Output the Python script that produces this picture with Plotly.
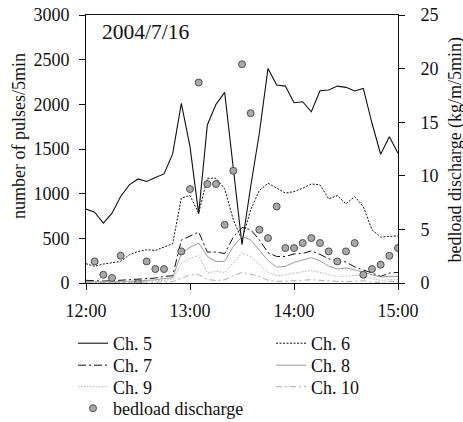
import plotly.graph_objects as go

# ---------------- data ----------------
time_labels = ["12:00", "12:05", "12:10", "12:15", "12:20", "12:25", "12:30", "12:35", "12:40",
               "12:45", "12:50", "12:55", "13:00", "13:05", "13:10", "13:15", "13:20", "13:25",
               "13:30", "13:35", "13:40", "13:45", "13:50", "13:55", "14:00", "14:05", "14:10",
               "14:15", "14:20", "14:25", "14:30", "14:35", "14:40", "14:45", "14:50", "14:55",
               "15:00"]
date = "2004-07-16"

ch5 = [827, 793, 670, 782, 968, 1098, 1165, 1136, 1180, 1221, 1445, 2011, 1527, 774, 1769, 2000,
       2134, 1250, 428, 1080, 1676, 2402, 2216, 2204, 2018, 2029, 1917, 2152, 2160, 2204, 2190,
       2149, 2178, 1788, 1441, 1638, 1453]
ch6 = [216, 186, 212, 230, 242, 316, 353, 372, 365, 402, 439, 950, 979, 782, 1173, 1173, 1054,
       707, 484, 819, 1035, 1117, 1061, 1006, 1023, 1061, 1109, 1098, 942, 979, 886, 968, 856,
       596, 514, 521, 528]
ch7 = [30, 25, 22, 25, 30, 35, 45, 50, 55, 74, 81, 480, 521, 570, 346, 346, 330, 514, 621, 596,
       484, 340, 297, 297, 325, 330, 360, 320, 270, 250, 235, 180, 149, 112, 74, 112, 118]
ch8 = [15, 12, 10, 12, 15, 20, 25, 30, 35, 50, 60, 330, 400, 447, 297, 242, 242, 409, 521, 484,
       372, 250, 179, 186, 230, 258, 285, 248, 190, 156, 168, 147, 118, 93, 67, 74, 74]
ch9 = [10, 8, 6, 8, 10, 12, 15, 18, 20, 30, 40, 223, 279, 305, 112, 130, 118, 223, 335, 297,
       210, 120, 80, 90, 110, 125, 140, 118, 95, 70, 78, 85, 80, 50, 30, 38, 40]
ch10 = [5, 5, 4, 5, 6, 7, 8, 9, 10, 12, 15, 50, 90, 95, 40, 28, 35, 80, 118, 100, 74, 30, 18, 20,
        28, 35, 37, 30, 22, 18, 15, 20, 25, 10, 8, 15, 20]
bedload = [None, 2.01, 0.77, 0.47, 2.54, None, 0.0, 2.01, 1.30, 1.30, None, 2.95, 8.76, 18.7,
           9.23, 9.23, 5.43, 10.47, 20.4, 15.84, 4.97, 4.19, 7.14, 3.26, 3.26, 3.73, 4.19, 3.73,
           2.95, 2.01, 2.95, 3.73, 0.77, 1.30, 1.71, 2.54, 3.26]

left_ticks = [0, 500, 1000, 1500, 2000, 2500, 3000]
right_ticks = [0, 5, 10, 15, 20, 25]
x_ticks = ["12:00", "13:00", "14:00", "15:00"]

# ---------------- figure ----------------
W, H = 463, 422
ML, MR, MT, MB = 86, 65, 15, 139
PW, PH = W - ML - MR, H - MT - MB
FONT = "Liberation Serif, Times New Roman, serif"
x = [f"{date} {t}" for t in time_labels]
xt = [f"{date} {t}" for t in x_ticks]

series = [
    ("Ch. 5", ch5, dict(color="#111111", width=1.1, dash="solid"), "legend", 73, 343.5),
    ("Ch. 6", ch6, dict(color="#111111", width=1, dash="2px,1.5px"), "legend2", 271, 343.5),
    ("Ch. 7", ch7, dict(color="#111111", width=1, dash="8px,3px,2px,3px"), "legend3", 73, 365.5),
    ("Ch. 8", ch8, dict(color="#9a9a9a", width=1, dash="solid"), "legend4", 271, 365.5),
    ("Ch. 9", ch9, dict(color="#b4b4b4", width=1, dash="1.5px,1.5px"), "legend5", 73, 387),
    ("Ch. 10", ch10, dict(color="#ababab", width=1, dash="6px,3px,2px,3px"), "legend6", 271, 387),
]

fig = go.Figure()
legends = {}
for name, vals, line, leg, lx, ly in series:
    fig.add_trace(go.Scatter(x=x, y=vals, mode="lines", name=name, line=line,
                             legend=leg, yaxis="y"))
    legends[leg] = (lx, ly)

fig.add_trace(go.Scatter(x=x, y=bedload, mode="markers", name="bedload discharge",
                         marker=dict(size=7, color="#a8a8a8",
                                     line=dict(color="#444444", width=0.9)),
                         yaxis="y2", legend="legend7"))
legends["legend7"] = (73, 408.5)

layout_legends = {}
for leg, (lx, ly) in legends.items():
    layout_legends[leg] = dict(
        xref="container", yref="container",
        x=lx / W, y=1 - ly / H, xanchor="left", yanchor="middle",
        bgcolor="rgba(0,0,0,0)", borderwidth=0,
        font=dict(family=FONT, size=18, color="#111111"),
        tracegroupgap=0, itemwidth=30,
    )

axis_font = dict(family=FONT, size=18, color="#111111")

fig.update_layout(
    width=W, height=H,
    margin=dict(l=ML, r=MR, t=MT, b=MB, autoexpand=False),
    paper_bgcolor="white", plot_bgcolor="white",
    font=dict(family=FONT, size=18, color="#111111"),
    showlegend=True,
    xaxis=dict(
        type="date", range=[xt[0], xt[-1]], tickvals=xt, ticktext=x_ticks,
        showgrid=False, zeroline=False, showline=True, linecolor="#111111", linewidth=1,
        mirror=True, ticks="outside", ticklen=6, tickcolor="#111111",
        ticklabelstandoff=5, tickfont=axis_font,
    ),
    yaxis=dict(
        range=[0, 3000], tickvals=left_ticks, showgrid=False, zeroline=False,
        showline=True, linecolor="#111111", linewidth=1, ticks="outside", ticklen=6,
        tickcolor="#111111", ticklabelstandoff=6, tickfont=axis_font,
    ),
    yaxis2=dict(
        range=[0, 25], tickvals=right_ticks, overlaying="y", side="right",
        showgrid=False, zeroline=False, showline=True, linecolor="#111111", linewidth=1,
        ticks="outside", ticklen=6, tickcolor="#111111", ticklabelstandoff=12,
        tickfont=axis_font,
    ),
    annotations=[
        dict(text="2004/7/16", xref="paper", yref="paper", x=0.045, y=0.935,
             xanchor="left", yanchor="middle", showarrow=False,
             font=dict(family=FONT, size=21.5, color="#111111")),
        dict(text="number of pulses/5min", xref="paper", yref="paper",
             x=(18.5 - ML) / PW, y=(MT + PH - 136.5) / PH, xanchor="center", yanchor="middle",
             textangle=-90, showarrow=False, font=axis_font),
        dict(text="bedload discharge (kg/m/5min)", xref="paper", yref="paper",
             x=(455 - ML) / PW, y=(MT + PH - 149.5) / PH, xanchor="center", yanchor="middle",
             textangle=-90, showarrow=False, font=axis_font),
    ],
    **layout_legends,
)

fig.write_html("out.html")
